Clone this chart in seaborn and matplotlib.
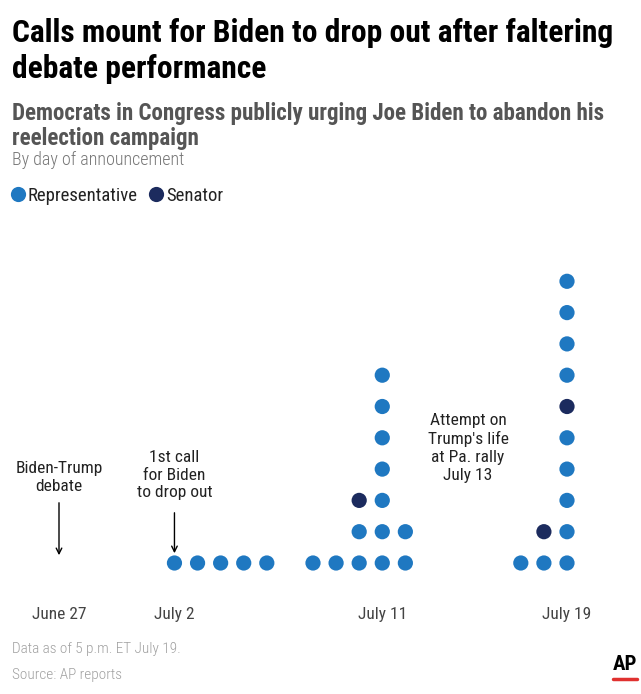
import pandas as pd
import matplotlib.pyplot as plt
import seaborn as sns
from matplotlib.lines import Line2D

# Announcements per day, stacked from the bottom (R = Representative, S = Senator)
days = [5, 6, 7, 8, 9, 11, 12, 13, 14, 15, 20, 21, 22]  # days after June 27
stacks = [
    ['R'], ['R'], ['R'], ['R'], ['R'],
    ['R'], ['R'], ['R', 'R', 'S'], ['R'] * 7, ['R', 'R'],
    ['R'], ['R', 'S'], ['R', 'R', 'R', 'R', 'R', 'S', 'R', 'R', 'R', 'R'],
]
tick_days = [0, 5, 14, 22]
tick_labels = ['June 27', 'July 2', 'July 11', 'July 19']
type_names = {'R': 'Representative', 'S': 'Senator'}

rows = []
for d, stack in zip(days, stacks):
    for level, t in enumerate(stack):
        rows.append({'day': d, 'level': level, 'type': type_names[t]})
df = pd.DataFrame(rows)

sns.set_style('white')
plt.rcParams['font.family'] = ['Roboto Condensed', 'Roboto', 'DejaVu Sans']

W, H = 641, 694
fig = plt.figure(figsize=(W / 100, H / 100), dpi=100)
ax_top, ax_bot = 220, 590
ax = fig.add_axes([0, 1 - ax_bot / H, 1, (ax_bot - ax_top) / H])

palette = {'Representative': '#1f78c1', 'Senator': '#1c2b5e'}
sns.scatterplot(data=df, x='day', y='level', hue='type', palette=palette,
                s=120, linewidth=0, ax=ax, legend=True)

px_per_day = (567 - 59) / 22
px_per_level = 31.3
ax.set_xlim(-59 / px_per_day, (W - 59) / px_per_day)
ax.set_ylim((563 - ax_bot) / px_per_level, (563 - ax_top) / px_per_level)
ax.set_xticks(tick_days)
ax.set_xticklabels(tick_labels, fontsize=12.5, color='#444444')
ax.tick_params(axis='x', length=0, pad=12)
ax.set_yticks([])
ax.set_xlabel('')
ax.set_ylabel('')
for s in ax.spines.values():
    s.set_visible(False)

# Legend
sns.move_legend(ax, loc='center left', bbox_to_anchor=(-0.012, (ax_bot - 196) / (ax_bot - ax_top)),
                ncol=2, frameon=False, title=None, fontsize=13.5,
                handletextpad=0.1, handlelength=0.9, columnspacing=0.5, markerscale=1.0)
for t in ax.get_legend().get_texts():
    t.set_color('#222222')

# Annotations
def lvl(y):
    return (563 - y) / px_per_level

ann = dict(ha='center', va='center', fontsize=12.5, color='#222222', linespacing=1.25)
ax.text(0, lvl(477), 'Biden-Trump\ndebate', **ann)
ax.annotate('', xy=(0, lvl(558)), xytext=(0, lvl(500)),
            arrowprops=dict(arrowstyle='->', color='black', lw=1))
ax.text(5, lvl(475), '1st call\nfor Biden\nto drop out', **ann)
ax.annotate('', xy=(5, lvl(556)), xytext=(5, lvl(510)),
            arrowprops=dict(arrowstyle='->', color='black', lw=1))
ax.text((468 - 59) / px_per_day, lvl(448), "Attempt on\nTrump's life\nat Pa. rally\nJuly 13", **ann)

# Titles, shrunk to the reference width
renderer = fig.canvas.get_renderer()

def fit(txt, width_px):
    w = txt.get_window_extent(renderer).width
    txt.set_fontsize(txt.get_fontsize() * width_px / w)

t1 = fig.text(12 / W, 1 - 18 / H, 'Calls mount for Biden to drop out after faltering',
              ha='left', va='top', fontsize=22, fontweight='bold', color='black')
fit(t1, 601)
fig.text(12 / W, 1 - 54 / H, 'debate performance', ha='left', va='top',
         fontsize=t1.get_fontsize(), fontweight='bold', color='black')
t2 = fig.text(12 / W, 1 - 102 / H, 'Democrats in Congress publicly urging Joe Biden to abandon his',
              ha='left', va='top', fontsize=15, fontweight='bold', color='#555555')
fit(t2, 594)
fig.text(12 / W, 1 - 127 / H, 'reelection campaign', ha='left', va='top',
         fontsize=t2.get_fontsize(), fontweight='bold', color='#555555')
fig.text(12 / W, 1 - 160 / H, 'By day of announcement', ha='left', va='center',
         fontsize=13, fontweight='light', color='#777777')

# Footer
fig.text(12 / W, 1 - 649 / H, 'Data as of 5 p.m. ET July 19.', ha='left', va='center',
         fontsize=11, fontweight='light', color='#a0a0a0')
fig.text(12 / W, 1 - 675 / H, 'Source: AP reports', ha='left', va='center',
         fontsize=11, fontweight='light', color='#a0a0a0')
fig.text(625 / W, 1 - 665 / H, 'AP', ha='center', va='center', fontsize=15,
         fontweight='bold', color='black')
fig.add_artist(Line2D([613 / W, 637 / W], [1 - 679 / H, 1 - 679 / H],
                      color='#e0312f', lw=2.5, transform=fig.transFigure))

fig.savefig('out.png', dpi=100)
